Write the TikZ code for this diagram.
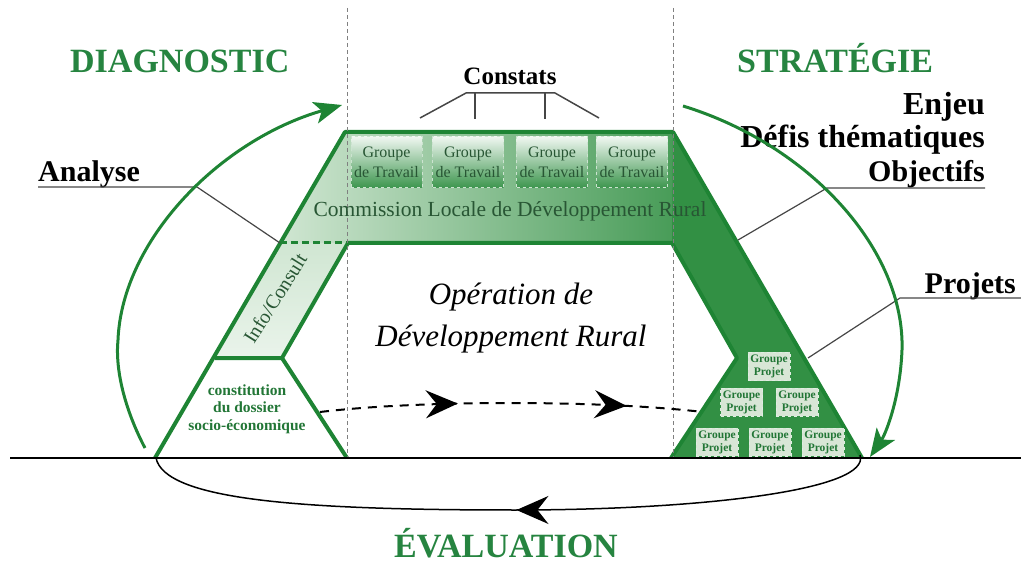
\documentclass[tikz,border=0pt]{standalone}
\usepackage{fontspec}
\setmainfont{Liberation Serif}
\usetikzlibrary{arrows.meta,decorations.markings}
\definecolor{gdark}{RGB}{50,144,68}
\definecolor{gline}{RGB}{30,132,52}
\definecolor{ghead}{RGB}{38,132,64}
\definecolor{glight}{RGB}{208,230,210}
\definecolor{gtext}{RGB}{40,86,52}
\definecolor{gbox}{RGB}{216,230,214}
\definecolor{gptext}{RGB}{34,118,54}
\definecolor{ulinec}{RGB}{70,70,70}
\tikzset{midtip/.tip={Stealth[length=32pt,width=28pt,inset=11pt]}}
\begin{document}
\begin{tikzpicture}[x=1pt,y=-1pt,
  hdr/.style={text=ghead,inner sep=0,font=\fontsize{34}{40}\selectfont\bfseries},
  lbl/.style={text=black,inner sep=0,font=\fontsize{30}{34}\selectfont\bfseries},
  lblbig/.style={text=black,inner sep=0,font=\fontsize{32}{34}\selectfont\bfseries},
  gtbox/.style={minimum width=71,minimum height=51,inner sep=0,align=center,
     top color=white!92!gdark,bottom color=gdark!95!white,draw=white!75!gdark,dashed,line width=1,
     text=gtext,font=\fontsize{16}{20}\selectfont},
  gpbox/.style={minimum width=42,minimum height=28,inner sep=0,align=center,
     fill=gbox,draw=white!85!gdark,dashed,line width=1,
     text=gptext,font=\fontsize{11.5}{13}\selectfont\bfseries},
  edge/.style={gline,line width=4,line join=round},
  uline/.style={ulinec,line width=1.2},
  garrow/.style={gline,line width=3,-{Stealth[length=28pt,width=22pt,inset=7pt]}},
  vdash/.style={gray,dash pattern=on 4pt off 3pt,line width=0.8},
]
\useasboundingbox (0,0) rectangle (1021,564);

% fills
\shade[left color=glight,right color=gdark] (345,132) -- (673,132) -- (737,243) -- (280,243) -- cycle;
\fill[gdark] (673,132) -- (862,458) -- (671,458) -- (737,358) -- (672,243) -- cycle;
\shade[top color=glight,bottom color=glight!45!white] (280,243) -- (348,243) -- (282,358) -- (215,358) -- cycle;

% outlines
\draw[edge] (155,458) -- (345,132) -- (673,132) -- (862,458);
\draw[edge] (348,243) -- (672,243) -- (737,358) -- (671,458);
\draw[edge] (348,243) -- (282,358);
\draw[edge] (215,358) -- (282,358) -- (347,458);
\draw[gline,line width=3,dash pattern=on 7pt off 4pt] (280,243) -- (348,243);

% vertical dashed guides
\draw[vdash] (347,8) -- (347,458);
\draw[vdash] (673,8) -- (673,458);

% ground
\draw[black,line width=2] (10,458) -- (1021,458);

% groupe de travail
\node[gtbox] (gt1) at (386.5,162.5) {Groupe\\de Travail};
\node[gtbox] (gt2) at (468,162.5) {Groupe\\de Travail};
\node[gtbox] (gt3) at (552,162.5) {Groupe\\de Travail};
\node[gtbox] (gt4) at (632,162.5) {Groupe\\de Travail};

% groupe projet
\node[gpbox] (gp1) at (769,366.5) {Groupe\\Projet};
\node[gpbox] (gp2) at (741.5,402) {Groupe\\Projet};
\node[gpbox] (gp3) at (797,402) {Groupe\\Projet};
\node[gpbox] (gp4) at (717,442) {Groupe\\Projet};
\node[gpbox] (gp5) at (770,442) {Groupe\\Projet};
\node[gpbox] (gp6) at (823,442) {Groupe\\Projet};

% texts in shape
\node[text=gtext,inner sep=0,anchor=base,font=\fontsize{21.5}{24}\selectfont] (clr) at (510,217) {Commission Locale de Développement Rural};
\node[text=gtext,inner sep=0,anchor=base,rotate=58,font=\fontsize{20}{24}\selectfont] (info) at (281,302) {Info/Consult};
\node[text=gptext,inner sep=0,align=center,anchor=base,font=\fontsize{15.5}{17.5}\selectfont\bfseries] (const) at (247,430) {constitution\\du dossier\\socio-économique};
\node[inner sep=0,anchor=base,font=\fontsize{31}{36}\selectfont\itshape] (op1) at (511,305) {Opération de};
\node[inner sep=0,anchor=base,font=\fontsize{31}{36}\selectfont\itshape] (op2) at (511,347) {Développement Rural};

% headers
\node[hdr,anchor=base west] (diag) at (70,73) {DIAGNOSTIC};
\node[hdr,anchor=base west] (strat) at (737,73) {STRATÉGIE};
\node[hdr,anchor=base] (eval) at (506,557) {ÉVALUATION};

% labels
\node[lbl,anchor=base,font=\fontsize{25}{30}\selectfont\bfseries] (constats) at (510,85) {Constats};
\node[lblbig,anchor=base east] (enjeu) at (985,115) {Enjeu};
\node[lblbig,anchor=base east] (defis) at (985,148) {Défis thématiques};
\node[lbl,anchor=base east] (objectifs) at (985,182) {Objectifs};
\node[lbl,anchor=base west] (analyse) at (38,182) {Analyse};
\node[lbl,anchor=base east] (projets) at (1016,294) {Projets};

% constats bracket
\coordinate (cL) at (420,118);
\coordinate (cA) at (466,93);
\coordinate (cB) at (555,93);
\coordinate (cR) at (599,118);
\draw[uline,line width=1.5] (cL) -- (cA) -- (cB) -- (cR);
\draw[uline,line width=1.5] (475,93) -- (475,119);
\draw[uline,line width=1.5] (545,93) -- (545,119);

% label leaders
\coordinate (aU) at (197,187);
\coordinate (aE) at (280,243);
\draw[uline] (analyse.base west |- aU) -- (aU) -- (aE);
\coordinate (oU) at (827,188);
\coordinate (oE) at (738,240);
\draw[uline] (objectifs.base east |- oU) -- (oU) -- (oE);
\coordinate (pU) at (900,298);
\coordinate (pE) at (808,358);
\draw[uline] (1021,298) -- (pU) -- (pE);

% green cycle arrows
\draw[garrow] (145,448) .. controls (125,410) and (115,370) .. (118,340)
   .. controls (122,240) and (220,140) .. (342,105);
\draw[garrow] (683,106) .. controls (810,145) and (905,250) .. (902,350)
   .. controls (900,400) and (885,435) .. (870,457);

% dashed flow
\draw[black,line width=2,dash pattern=on 9pt off 7pt,
  decoration={markings,
    mark=at position 0.36 with {\arrow[solid]{midtip}},
    mark=at position 0.80 with {\arrow[solid]{midtip}}},
  postaction={decorate}]
  (320,412) .. controls (420,400) and (600,400) .. (703,412);

% evaluation loop
\draw[black,line width=1.5,
  decoration={markings,
    mark=at position 0.49 with {\arrow{midtip}}},
  postaction={decorate}]
  (860,455) .. controls (872,490) and (700,510) .. (515,510)
  .. controls (300,510) and (165,500) .. (156,458);
\end{tikzpicture}
\end{document}
